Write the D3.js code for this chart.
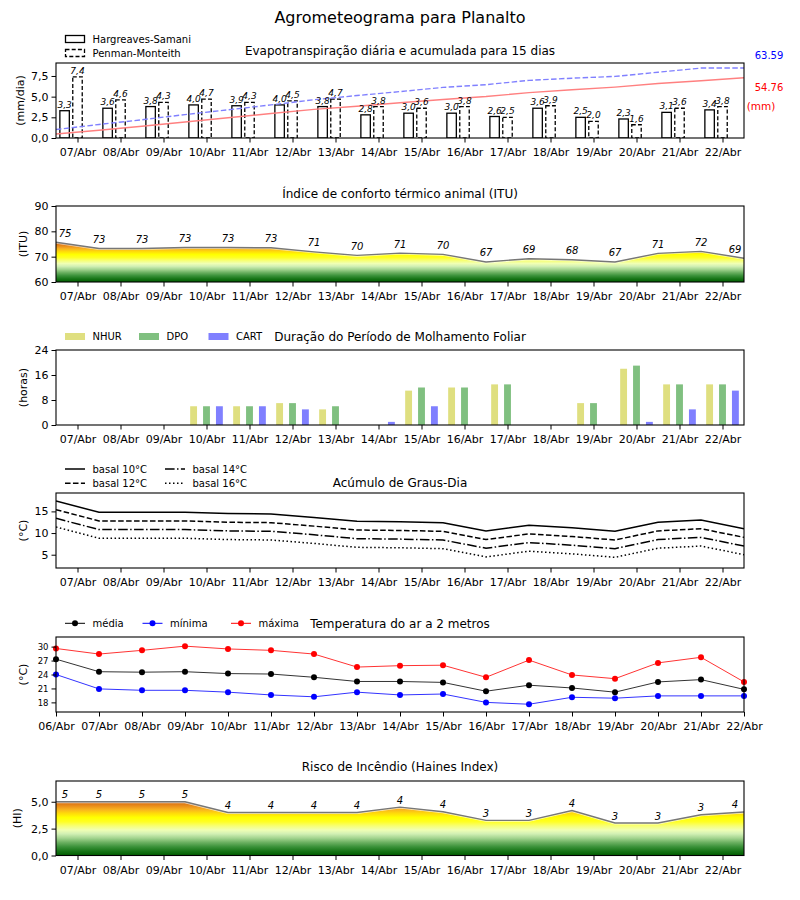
<!DOCTYPE html>
<html><head><meta charset="utf-8">
<script src="https://cdn.jsdelivr.net/npm/d3@7"></script>
<style>body{margin:0;background:#fff} svg{font-family:"DejaVu Sans",sans-serif}</style>
</head><body><svg id="c" width="800" height="900"></svg>
<script>
// ---------------- DATA ----------------
const days = ["07/Abr","08/Abr","09/Abr","10/Abr","11/Abr","12/Abr","13/Abr","14/Abr","15/Abr","16/Abr","17/Abr","18/Abr","19/Abr","20/Abr","21/Abr","22/Abr"];
const days17 = ["06/Abr","07/Abr","08/Abr","09/Abr","10/Abr","11/Abr","12/Abr","13/Abr","14/Abr","15/Abr","16/Abr","17/Abr","18/Abr","19/Abr","20/Abr","21/Abr","22/Abr"];
// Evapotranspiration (mm/dia)
const etHS = [3.3,3.6,3.8,4.0,3.9,4.0,3.8,2.8,3.0,3.0,2.6,3.6,2.5,2.3,3.1,3.4];
const etPM = [7.4,4.6,4.3,4.7,4.3,4.5,4.7,3.8,3.6,3.8,2.5,3.9,2.0,1.6,3.6,3.8];
// accumulated (mm)
const accHS = [3.6,7.0,10.7,14.6,18.4,22.3,26.0,28.9,32.0,35.0,37.7,41.3,43.9,46.3,49.5,52.0,54.76];
const accPM = [7.7,12.3,16.6,21.3,25.6,30.1,34.8,38.6,42.2,46.0,48.5,52.4,54.4,56.0,59.8,63.59,63.59];
const accHSLabel = "54.76", accPMLabel = "63.59";
// ITU
const itu = [75.7,73.2,73.2,73.6,73.6,73.5,71.9,70.5,71.4,70.9,67.9,69.2,68.8,67.9,71.3,72.1,69.4];
// Leaf wetness (horas)
const nhur = [0,0,0,6,6,7,5,0,11,12,13,0,7,18,13,13];
const dpo  = [0,0,0,6,6,7,6,0,12,12,13,0,7,19,13,13];
const cart = [0,0,0,6,6,5,0,1,6,0,0,0,0,1,5,11];
// Degree days
const gd10 = [17.4,14.8,14.8,14.8,14.5,14.4,13.6,12.7,12.6,12.4,10.5,11.8,11.2,10.4,12.5,13.0,11.0];
const gd12 = [15.4,12.8,12.8,12.8,12.5,12.4,11.6,10.7,10.6,10.4,8.5,9.8,9.2,8.4,10.5,11.0,9.0];
const gd14 = [13.4,10.8,10.8,10.8,10.5,10.4,9.6,8.7,8.6,8.4,6.5,7.8,7.2,6.4,8.5,9.0,7.0];
const gd16 = [11.4,8.8,8.8,8.8,8.5,8.4,7.6,6.7,6.6,6.4,4.5,5.8,5.2,4.4,6.5,7.0,5.0];
// Air temperature
const tmed = [27.3,24.6,24.5,24.6,24.2,24.1,23.4,22.5,22.5,22.3,20.4,21.7,21.1,20.2,22.4,22.9,20.8];
const tmin = [24.0,20.9,20.6,20.6,20.2,19.6,19.2,20.2,19.6,19.8,18.0,17.6,19.1,18.9,19.4,19.4,19.4];
const tmax = [29.6,28.4,29.2,30.1,29.5,29.2,28.4,25.6,25.9,26.0,23.4,27.1,23.9,23.1,26.5,27.7,22.4];
// Haines index
const haines = [5.0,5.0,5.0,5.0,4.0,4.0,4.0,4.0,4.5,4.07,3.27,3.27,4.19,3.02,3.02,3.79,4.05];

// ---------------- SETUP ----------------
const FONT = "DejaVu Sans, sans-serif";
const svg = d3.select("#c");
const X0 = 56, X1 = 744;
const xd = d3.scaleLinear().domain([-0.5, 15.5]).range([X0, X1]);
const xh = i => i - 0.5; // half-day positions for 17-point series
const loc = d3.formatLocale({decimal: ",", thousands: ".", grouping: [3], currency: ["", ""]});
const f1 = loc.format(".1f");
const defs = svg.append("defs");

function clip(id, top, bot) {
  defs.append("clipPath").attr("id", id).append("rect")
    .attr("x", X0).attr("y", top).attr("width", X1 - X0).attr("height", bot - top);
  return `url(#${id})`;
}
function frame(top, bot) {
  svg.append("rect").attr("x", X0).attr("y", top).attr("width", X1 - X0).attr("height", bot - top)
    .attr("fill", "none").attr("stroke", "#000").attr("stroke-width", 1.1);
}
function xAxis(bot, scale, vals, fmt) {
  const g = svg.append("g").attr("transform", `translate(0,${bot})`)
    .call(d3.axisBottom(scale).tickValues(vals).tickFormat(fmt).tickSize(4.5).tickPadding(6).tickSizeOuter(0));
  g.select(".domain").remove();
  g.attr("font-size", 11).attr("font-family", FONT);
  g.selectAll("line").attr("stroke", "#000");
}
function yAxis(scale, vals, fmt, fs) {
  const g = svg.append("g").attr("transform", `translate(${X0},0)`)
    .call(d3.axisLeft(scale).tickValues(vals).tickFormat(fmt).tickSize(4.5).tickPadding(3).tickSizeOuter(0));
  g.select(".domain").remove();
  g.attr("font-size", fs || 11).attr("font-family", FONT);
  g.selectAll("line").attr("stroke", "#000");
}
function yLabel(txt, x, top, bot) {
  svg.append("text").attr("transform", `translate(${x},${(top + bot) / 2}) rotate(-90)`)
    .attr("text-anchor", "middle").attr("dominant-baseline", "central")
    .attr("font-size", 11).attr("font-family", FONT).text(txt);
}
function title(txt, y) {
  svg.append("text").attr("x", 400).attr("y", y).attr("text-anchor", "middle")
    .attr("dominant-baseline", "central").attr("font-size", 12).attr("font-family", FONT).text(txt);
}
function legText(x, y, txt) {
  svg.append("text").attr("x", x).attr("y", y).attr("dominant-baseline", "central")
    .attr("font-size", 10).attr("font-family", FONT).text(txt);
}
// colormap (dark green -> yellow -> dark orange)
const cmap = [[0.00,"#005c00"],[0.08,"#177517"],[0.16,"#3a9139"],[0.24,"#6bb061"],[0.32,"#a3d48f"],[0.40,"#d2f0b4"],
  [0.47,"#f0ffb4"],[0.55,"#f8ff70"],[0.62,"#ffff25"],[0.70,"#ffff00"],[0.78,"#ffd90a"],[0.85,"#f8b020"],[0.92,"#e88a1a"],[1.0,"#cc6412"]];
function gradient(id, yScale, lo, hi) {
  const g = defs.append("linearGradient").attr("id", id).attr("gradientUnits", "userSpaceOnUse")
    .attr("x1", 0).attr("x2", 0).attr("y1", yScale(lo)).attr("y2", yScale(hi));
  cmap.forEach(([t, c]) => g.append("stop").attr("offset", t).attr("stop-color", c));
  return `url(#${id})`;
}

// ---------------- MAIN TITLE ----------------
svg.append("text").attr("x", 400).attr("y", 17).attr("text-anchor", "middle").attr("dominant-baseline", "central")
  .attr("font-size", 16).attr("font-family", FONT).text("Agrometeograma para Planalto");

// ---------------- PANEL 1: ET ----------------
{
  const top = 63, bot = 138;
  const y = d3.scaleLinear().domain([0, 9.07]).range([bot, top]);
  const yr = d3.scaleLinear().domain([0, 68.2]).range([bot, top]);
  const cp = clip("c1", top, bot);
  const bw = 0.22;
  const g = svg.append("g").attr("clip-path", cp);
  g.selectAll(".hs").data(etHS).join("rect")
    .attr("x", (d, i) => xd(i - 0.3 - bw / 2)).attr("width", xd(bw) - xd(0))
    .attr("y", d => y(d)).attr("height", d => y(0) - y(d))
    .attr("fill", "#fff").attr("stroke", "#000").attr("stroke-width", 1.3);
  g.selectAll(".pm").data(etPM).join("rect")
    .attr("x", (d, i) => xd(i - bw / 2)).attr("width", xd(bw) - xd(0))
    .attr("y", d => y(d)).attr("height", d => y(0) - y(d))
    .attr("fill", "#fff").attr("stroke", "#000").attr("stroke-width", 1.3).attr("stroke-dasharray", "4,2.2");
  const xs = accHS.map((d, i) => xh(i));
  g.append("path").attr("d", d3.line().x((d, i) => xd(xs[i])).y(d => yr(d))(accHS))
    .attr("fill", "none").attr("stroke", "#ff8080").attr("stroke-width", 1.4);
  g.append("path").attr("d", d3.line().x((d, i) => xd(xs[i])).y(d => yr(d))(accPM))
    .attr("fill", "none").attr("stroke", "#8080ff").attr("stroke-width", 1.4).attr("stroke-dasharray", "5.5,2.4");
  svg.selectAll(".lhs").data(etHS).join("text").attr("x", (d, i) => xd(i - 0.3)).attr("y", d => y(d) - 3)
    .attr("text-anchor", "middle").attr("font-size", 9).attr("font-style", "italic").attr("font-family", FONT).text(d => f1(d));
  svg.selectAll(".lpm").data(etPM).join("text").attr("x", (d, i) => xd(i)).attr("y", d => y(d) - 3)
    .attr("text-anchor", "middle").attr("font-size", 9).attr("font-style", "italic").attr("font-family", FONT).text(d => f1(d));
  frame(top, bot);
  xAxis(bot, xd, d3.range(16), i => days[i]);
  yAxis(y, [0, 2.5, 5, 7.5], f1);
  yLabel("(mm/dia)", 20, top, bot);
  title("Evapotranspiração diária e acumulada para 15 dias", 51);
  svg.append("text").attr("x", 769).attr("y", 55).attr("text-anchor", "middle").attr("dominant-baseline", "central")
    .attr("font-size", 10).attr("font-family", FONT).attr("fill", "#0000ff").text(accPMLabel);
  svg.append("text").attr("x", 769).attr("y", 87.5).attr("text-anchor", "middle").attr("dominant-baseline", "central")
    .attr("font-size", 10).attr("font-family", FONT).attr("fill", "#ff0000").text(accHSLabel);
  svg.append("text").attr("x", 761).attr("y", 105.5).attr("text-anchor", "middle").attr("dominant-baseline", "central")
    .attr("font-size", 10.5).attr("font-family", FONT).attr("fill", "#ff0000").text("(mm)");
  // legend
  svg.append("rect").attr("x", 65.5).attr("y", 35.5).attr("width", 19).attr("height", 7)
    .attr("fill", "#fff").attr("stroke", "#000").attr("stroke-width", 1.3);
  legText(92.5, 39, "Hargreaves-Samani");
  svg.append("rect").attr("x", 65.5).attr("y", 49.5).attr("width", 19).attr("height", 7)
    .attr("fill", "#fff").attr("stroke", "#000").attr("stroke-width", 1.3).attr("stroke-dasharray", "4,2.2");
  legText(92.5, 53.5, "Penman-Monteith");
}

// ---------------- PANEL 2: ITU ----------------
{
  const top = 206, bot = 282;
  const y = d3.scaleLinear().domain([60, 90]).range([bot, top]);
  const cp = clip("c2", top, bot);
  const grad = gradient("g2", y, 60, 75.5);
  const g = svg.append("g").attr("clip-path", cp);
  g.append("path").attr("d", d3.area().x((d, i) => xd(xh(i))).y0(bot).y1(d => y(d))(itu)).attr("fill", grad);
  g.append("path").attr("d", d3.line().x((d, i) => xd(xh(i))).y(d => y(d))(itu))
    .attr("fill", "none").attr("stroke", "#ffffff").attr("stroke-opacity", 0.6).attr("stroke-width", 3);
  g.append("path").attr("d", d3.line().x((d, i) => xd(xh(i))).y(d => y(d))(itu))
    .attr("fill", "none").attr("stroke", "#777").attr("stroke-width", 1.4);
  svg.selectAll(".litu").data(itu).join("text")
    .attr("x", (d, i) => Math.min(735, Math.max(65, xd(xh(i))))).attr("y", d => y(d) - 5.5)
    .attr("text-anchor", "middle").attr("font-size", 10).attr("font-style", "italic").attr("font-family", FONT)
    .text(d => Math.floor(d));
  frame(top, bot);
  xAxis(bot, xd, d3.range(16), i => days[i]);
  yAxis(y, [60, 70, 80, 90], d3.format("d"));
  yLabel("(ITU)", 23, top, bot);
  title("Índice de conforto térmico animal (ITU)", 194);
}

// ---------------- PANEL 3: Leaf wetness ----------------
{
  const top = 350, bot = 425;
  const y = d3.scaleLinear().domain([0, 24]).range([bot, top]);
  const bw = 0.16;
  const series = [[nhur, -0.3, "#dfdf80"], [dpo, 0, "#80c080"], [cart, 0.3, "#8080ff"]];
  series.forEach(([arr, off, col]) => {
    svg.append("g").selectAll("rect").data(arr).join("rect")
      .attr("x", (d, i) => xd(i + off - bw / 2)).attr("width", xd(bw) - xd(0))
      .attr("y", d => y(d)).attr("height", d => y(0) - y(d)).attr("fill", col);
  });
  frame(top, bot);
  xAxis(bot, xd, d3.range(16), i => days[i]);
  yAxis(y, [0, 8, 16, 24], d3.format("d"));
  yLabel("(horas)", 23, top, bot);
  title("Duração do Período de Molhamento Foliar", 337);
  const leg = [["NHUR", "#dfdf80", 65], ["DPO", "#80c080", 139], ["CART", "#8080ff", 208.5]];
  leg.forEach(([t, c, x]) => {
    svg.append("rect").attr("x", x).attr("y", 333).attr("width", 20).attr("height", 7).attr("fill", c);
    legText(x + 27.5, 336.7, t);
  });
}

// ---------------- PANEL 4: Degree days ----------------
{
  const top = 493, bot = 568;
  const y = d3.scaleLinear().domain([1.93, 19.25]).range([bot, top]);
  const cp = clip("c4", top, bot);
  const styles = [[gd10, null], [gd12, "5.55,2.4"], [gd14, "9.6,2.4,1.5,2.4"], [gd16, "1.5,2.5"]];
  const g = svg.append("g").attr("clip-path", cp);
  styles.forEach(([arr, dash]) => {
    g.append("path").attr("d", d3.line().x((d, i) => xd(xh(i))).y(d => y(d))(arr))
      .attr("fill", "none").attr("stroke", "#000").attr("stroke-width", 1.5).attr("stroke-dasharray", dash);
  });
  frame(top, bot);
  xAxis(bot, xd, d3.range(16), i => days[i]);
  yAxis(y, [5, 10, 15], d3.format("d"));
  yLabel("(°C)", 23, top, bot);
  title("Acúmulo de Graus-Dia", 482.7);
  const leg = [["basal 10°C", null, 65, 469], ["basal 12°C", "5.55,2.4", 65, 483.3],
               ["basal 14°C", "9.6,2.4,1.5,2.4", 165, 469], ["basal 16°C", "1.5,2.5", 165, 483.3]];
  leg.forEach(([t, dash, x, yy]) => {
    svg.append("line").attr("x1", x).attr("x2", x + 20).attr("y1", yy).attr("y2", yy)
      .attr("stroke", "#000").attr("stroke-width", 1.5).attr("stroke-dasharray", dash);
    legText(x + 27.5, yy, t);
  });
}

// ---------------- PANEL 5: Temperature ----------------
{
  const top = 637, bot = 712;
  const x5 = d3.scaleLinear().domain([0, 16]).range([X0, X1]);
  const y = d3.scaleLinear().domain([15.93, 32.07]).range([bot, top]);
  const ser = [[tmax, "#ff0000"], [tmed, "#000000"], [tmin, "#0000ff"]];
  ser.forEach(([arr, col]) => {
    svg.append("path").attr("d", d3.line().x((d, i) => x5(i)).y(d => y(d))(arr))
      .attr("fill", "none").attr("stroke", col).attr("stroke-width", 1).attr("stroke-opacity", 0.8);
    svg.append("g").selectAll("circle").data(arr).join("circle")
      .attr("cx", (d, i) => x5(i)).attr("cy", d => y(d)).attr("r", 3).attr("fill", col);
  });
  frame(top, bot);
  xAxis(bot, x5, d3.range(17), i => days17[i]);
  yAxis(y, [18, 21, 24, 27, 30], d3.format("d"), 8.5);
  yLabel("(°C)", 23, top, bot);
  title("Temperatura do ar a 2 metros", 623.5);
  const leg = [["média", "#000000", 65], ["mínima", "#0000ff", 142.5], ["máxima", "#ff0000", 231]];
  leg.forEach(([t, c, x]) => {
    svg.append("line").attr("x1", x).attr("x2", x + 20).attr("y1", 623.3).attr("y2", 623.3)
      .attr("stroke", c).attr("stroke-width", 1);
    svg.append("circle").attr("cx", x + 10).attr("cy", 623.3).attr("r", 3).attr("fill", c);
    legText(x + 27.5, 623.3, t);
  });
}

// ---------------- PANEL 6: Haines ----------------
{
  const top = 781, bot = 855.5;
  const y = d3.scaleLinear().domain([0, 6.93]).range([bot, top]);
  const cp = clip("c6", top, bot);
  const grad = gradient("g6", y, 0, 5.05);
  const g = svg.append("g").attr("clip-path", cp);
  g.append("path").attr("d", d3.area().x((d, i) => xd(xh(i))).y0(bot).y1(d => y(d))(haines)).attr("fill", grad);
  g.append("path").attr("d", d3.line().x((d, i) => xd(xh(i))).y(d => y(d))(haines))
    .attr("fill", "none").attr("stroke", "#ffffff").attr("stroke-opacity", 0.7).attr("stroke-width", 3);
  g.append("path").attr("d", d3.line().x((d, i) => xd(xh(i))).y(d => y(d))(haines))
    .attr("fill", "none").attr("stroke", "#777").attr("stroke-width", 1.4);
  svg.selectAll(".lhi").data(haines).join("text")
    .attr("x", (d, i) => Math.min(735, Math.max(65, xd(xh(i))))).attr("y", d => y(d) - 3.5)
    .attr("text-anchor", "middle").attr("font-size", 10).attr("font-style", "italic").attr("font-family", FONT)
    .text(d => Math.floor(d));
  frame(top, bot);
  xAxis(bot, xd, d3.range(16), i => days[i]);
  yAxis(y, [0, 2.5, 5], f1);
  yLabel("(HI)", 17, top, bot);
  title("Risco de Incêndio (Haines Index)", 767);
}
</script></body></html>
